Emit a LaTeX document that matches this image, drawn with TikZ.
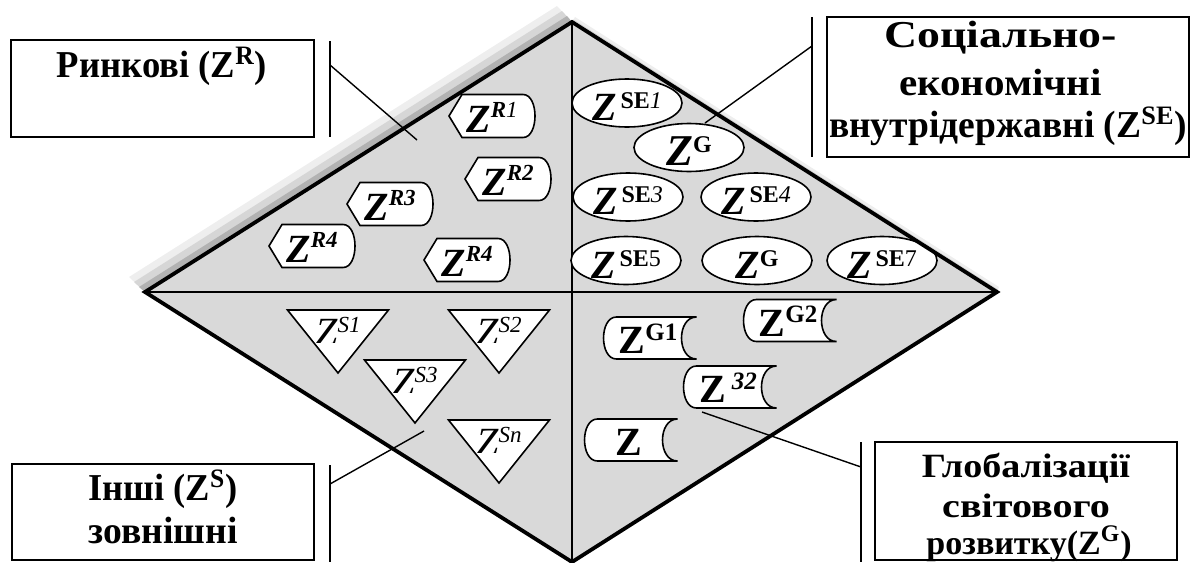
\documentclass[tikz,border=0pt]{standalone}
\usepackage{fontspec}
\usepackage{graphicx}
\setmainfont{Liberation Serif}

\definecolor{panelgray}{RGB}{217,217,217}
\definecolor{shadowA}{RGB}{178,178,178}
\definecolor{shadowB}{RGB}{214,214,214}
\definecolor{shadowC}{RGB}{238,238,238}

% raised small index: raise, size, text
\newcommand{\upidx}[3]{\raisebox{#1}{\fontsize{#2}{#2}\selectfont #3}}
% horizontally widened or narrowed text
\newcommand{\wide}[2]{\scalebox{#1}[1]{#2}}

\tikzset{
  outline/.style={draw=black, line width=1.9pt, line join=miter},
  divider/.style={draw=black, line width=0.9pt},
  item/.style={draw=black, fill=white, line width=0.8pt},
  labelbox/.style={draw=black, line width=1pt},
  bracketbar/.style={draw=black, line width=1pt},
  leader/.style={draw=black, line width=0.7pt},
  lbl/.style={anchor=base, inner sep=0pt, font=\bfseries\fontsize{19}{22}\selectfont},
  glbl/.style={anchor=base, inner sep=0pt, font=\bfseries\fontsize{17}{20}\selectfont},
  rtext/.style={anchor=base, inner sep=0pt, font=\bfseries\itshape\fontsize{20}{20}\selectfont},
  etext/.style={anchor=base, inner sep=0pt, font=\bfseries\itshape\fontsize{20}{20}\selectfont},
  stext/.style={anchor=base, inner sep=0pt, font=\itshape\fontsize{20}{20}\selectfont},
  gtext/.style={anchor=base, inner sep=0pt, font=\bfseries\fontsize{20}{20}\selectfont},
}

% pointed tag with rounded right end: name, x, y, text
\newcommand{\rtag}[4]{%
  \begin{scope}[shift={(#2,#3)}]
    \draw[item] (-43,0) -- (-30,-21.5) -- (31,-21.5)
      .. controls (47,-21.5) and (47,21.5) .. (31,21.5) -- (-30,21.5) -- cycle;
  \end{scope}
  \node[rtext] (#1) at (#2,#3+16) {#4};}

% oval: name, x, y, text
\newcommand{\seoval}[4]{%
  \draw[item] (#2,#3) ellipse [x radius=27.5pt, y radius=12pt];
  \node[etext] (#1) at (#2,#3+17.5) {#4};}

% inverted triangle with a clipped letter: name, x, top, index
\newcommand{\stri}[4]{%
  \draw[item] (#2-50.5,#3) -- (#2+50.5,#3) -- (#2,#3+63) -- cycle;
  \begin{scope}
    \clip (#2-45,#3+2) rectangle (#2+45,#3+32.5);
    \node[stext] (#1) at (#2,#3+35.5) {Z\upidx{6.5pt}{11.5}{#4}};
  \end{scope}}

% scroll with convex left and concave right side: name, x, y, text
\newcommand{\gscroll}[4]{%
  \begin{scope}[shift={(#2,#3)}]
    \draw[item] (-33.5,-21) -- (46.5,-21)
      .. controls (26.5,-21) and (26.5,21) .. (46.5,21) -- (-33.5,21)
      .. controls (-50.8,21) and (-50.8,-21) .. (-33.5,-21) -- cycle;
  \end{scope}
  \node[gtext] (#1) at (#2-2,#3+15.5) {#4};}

\begin{document}
\begin{tikzpicture}[x=0.5pt,y=-0.5pt]
\useasboundingbox (0,0) rectangle (1192,562);

% corners of the diamond
\coordinate (T) at (572,22);
\coordinate (L) at (145,292);
\coordinate (R) at (997,292);
\coordinate (B) at (572,562);

% soft shading along the upper edges
\fill[shadowC] (L) -- (T) -- ([shift={(-15,-16)}]T) -- ([shift={(-16,-15)}]L) -- cycle;
\fill[shadowB] (L) -- (T) -- ([shift={(-10,-11)}]T) -- ([shift={(-11,-10)}]L) -- cycle;
\fill[shadowA] (L) -- (T) -- ([shift={(-5,-6)}]T) -- ([shift={(-6,-5)}]L) -- cycle;
\fill[shadowC] (T) -- (R) -- ([shift={(2,-5)}]R) -- ([shift={(3,-5)}]T) -- cycle;
\fill[shadowB] (T) -- (R) -- ([shift={(1,-2.5)}]R) -- ([shift={(1.5,-2.5)}]T) -- cycle;

% the diamond and its quarters
\fill[panelgray] (T) -- (R) -- (B) -- (L) -- cycle;
\draw[divider] (T) -- (B);
\draw[divider] (L) -- (R);

% market factors
\rtag{r1}{492}{116}{Z\upidx{7.5pt}{11.5}{R\textmd{1}}}
\rtag{r2}{508}{179}{Z\upidx{7.5pt}{11.5}{R2}}
\rtag{r3}{390}{204}{Z\upidx{7.5pt}{11.5}{R3}}
\rtag{r4a}{312}{246}{Z\upidx{7.5pt}{11.5}{R4}}
\rtag{r4b}{467}{260}{Z\upidx{7.5pt}{11.5}{R4}}

% socio-economic factors
\seoval{se1}{627}{103}{Z\hspace{2pt}\upidx{6pt}{12}{\upshape SE\mdseries\itshape 1}}
\seoval{g1}{689}{147.5}{\fontsize{22}{22}\selectfont Z\upidx{6.5pt}{12}{\upshape G}}
\seoval{se3}{628}{197}{Z\hspace{2pt}\upidx{6pt}{12}{\upshape SE\mdseries\itshape 3}}
\seoval{se4}{756}{197}{Z\hspace{2pt}\upidx{6pt}{12}{\upshape SE\mdseries\itshape 4}}
\seoval{se5}{626}{260.5}{Z\hspace{2pt}\upidx{6pt}{12}{\upshape SE\mdseries 5}}
\seoval{g2}{757}{260.5}{Z\upidx{6pt}{12}{\upshape G}}
\seoval{se7}{882}{260.5}{Z\hspace{2pt}\upidx{6pt}{12}{\upshape SE\mdseries 7}}

% other external factors
\stri{s1}{338}{310}{S1}
\stri{s2}{499}{310}{S2}
\stri{s3}{415}{360}{S3}
\stri{sn}{499}{420}{Sn}

% globalisation factors
\gscroll{gl1}{650}{338}{Z\upidx{6.7pt}{12.5}{G1}}
\gscroll{gl2}{790}{320.5}{Z\upidx{6.7pt}{12.5}{G2}}
\gscroll{gl3}{730}{387}{Z\hspace{3pt}\upidx{6.7pt}{12.5}{\itshape 32}}
\gscroll{gl4}{631}{440}{Z}

% heavy border of the diamond, over the items that touch it
\draw[outline] (T) -- (R) -- (B) -- (L) -- cycle;

% label: market
\draw[labelbox] (11,40) rectangle (314,137);
\node[lbl] (txtR) at (162,77) {\wide{0.964}{Ринкові (Z\textsuperscript{R})}};
\coordinate (barRa) at (330,41);
\coordinate (barRb) at (330,137);
\draw[bracketbar] (barRa) -- (barRb);
\coordinate (legR) at (330,65);
\coordinate (tipR) at (417,140);
\draw[leader] (legR) -- (tipR);

% label: socio-economic
\draw[labelbox] (827,17) rectangle (1189,157);
\node[lbl] (txtSEa) at (1000.5,47) {\wide{1.206}{Соціально-}};
\node[lbl] (txtSEb) at (1000.5,95) {\wide{1.081}{економічні}};
\node[lbl] (txtSEc) at (1008,137) {\wide{0.987}{внутрідержавні (Z\textsuperscript{SE})}};
\coordinate (barSEa) at (812,17);
\coordinate (barSEb) at (812,157);
\draw[bracketbar] (barSEa) -- (barSEb);
\coordinate (legSE) at (812,46);
\coordinate (tipSE) at (705,123);
\draw[leader] (legSE) -- (tipSE);

% label: other external
\draw[labelbox] (11.5,463.5) rectangle (314,560);
\node[lbl] (txtSa) at (163,500) {\wide{0.96}{Інші (Z\textsuperscript{S})}};
\node[lbl] (txtSb) at (163,543.5) {\wide{0.99}{зовнішні}};
\coordinate (barSa) at (330,465);
\coordinate (barSb) at (330,562);
\draw[bracketbar] (barSa) -- (barSb);
\coordinate (legS) at (330,484);
\coordinate (tipS) at (424,431);
\draw[leader] (legS) -- (tipS);

% label: globalisation (the frame is drawn over the last line's descenders)
\node[glbl] (txtGa) at (1026,477) {\wide{1.12}{Глобалізації}};
\node[glbl] (txtGb) at (1026,517) {\wide{1.18}{світового}};
\node[glbl] (txtGc) at (1029,554) {розвитку(Z\textsuperscript{G})};
\draw[labelbox] (875,442) rectangle (1177,560);
\coordinate (barGa) at (861,442);
\coordinate (barGb) at (861,562);
\draw[bracketbar] (barGa) -- (barGb);
\coordinate (legG) at (861,467);
\coordinate (tipG) at (702,412);
\draw[leader] (legG) -- (tipG);
\end{tikzpicture}
\end{document}
